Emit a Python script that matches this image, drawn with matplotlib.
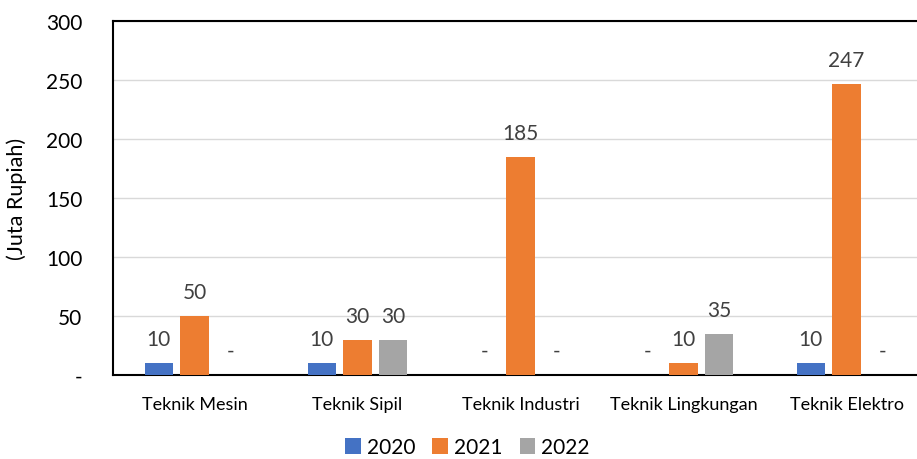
import numpy as np
import matplotlib.pyplot as plt

categories = ['Teknik Mesin', 'Teknik Sipil', 'Teknik Industri',
              'Teknik Lingkungan', 'Teknik Elektro']
years = ['2020', '2021', '2022']
v2020 = [10, 10, 0, 0, 10]
v2021 = [50, 30, 185, 10, 247]
v2022 = [0, 30, 0, 35, 0]
colors = ['#4472C4', '#ED7D31', '#A5A5A5']

plt.rcParams['font.family'] = ['Lato', 'DejaVu Sans']

fig = plt.figure(figsize=(9.17, 4.6), dpi=100)
ax = fig.add_axes([113 / 917, 84 / 460, 815 / 917, 354 / 460])

x = np.arange(len(categories))
width = 0.172
step = 0.22
for i, (vals, yr) in enumerate(zip([v2020, v2021, v2022], years)):
    pos = x + (i - 1) * step
    ax.bar(pos, vals, width, color=colors[i], label=yr, zorder=3)
    for p, v in zip(pos, vals):
        txt = '-' if v == 0 else str(v)
        ax.annotate(txt, (p, v), xytext=(0, 10), textcoords='offset points',
                    ha='center', va='bottom', fontsize=15, color='#404040')

ax.set_xlim(-0.5, len(categories) - 0.5)
ax.set_ylim(0, 300)
ax.set_yticks(range(0, 301, 50))
ax.set_yticklabels(['-'] + [str(t) for t in range(50, 301, 50)], fontsize=15)
ax.set_xticks(x)
ax.set_xticklabels(categories, fontsize=13)
ax.tick_params(axis='y', length=0, pad=22)
ax.tick_params(axis='x', length=0, pad=15)
ax.grid(axis='y', color='#d9d9d9', linewidth=1, zorder=0)
for s in ['left', 'top', 'bottom']:
    ax.spines[s].set_color('black')
    ax.spines[s].set_linewidth(1.5)
ax.spines['right'].set_visible(False)
ax.set_ylabel('(Juta Rupiah)', fontsize=15.5, labelpad=14)

fig.legend(loc='lower center', bbox_to_anchor=(0.51, -0.037), ncol=3,
           frameon=False, fontsize=15, handlelength=0.75, handleheight=0.75,
           columnspacing=0.8, handletextpad=0.3)

fig.savefig('out.png', dpi=100)
